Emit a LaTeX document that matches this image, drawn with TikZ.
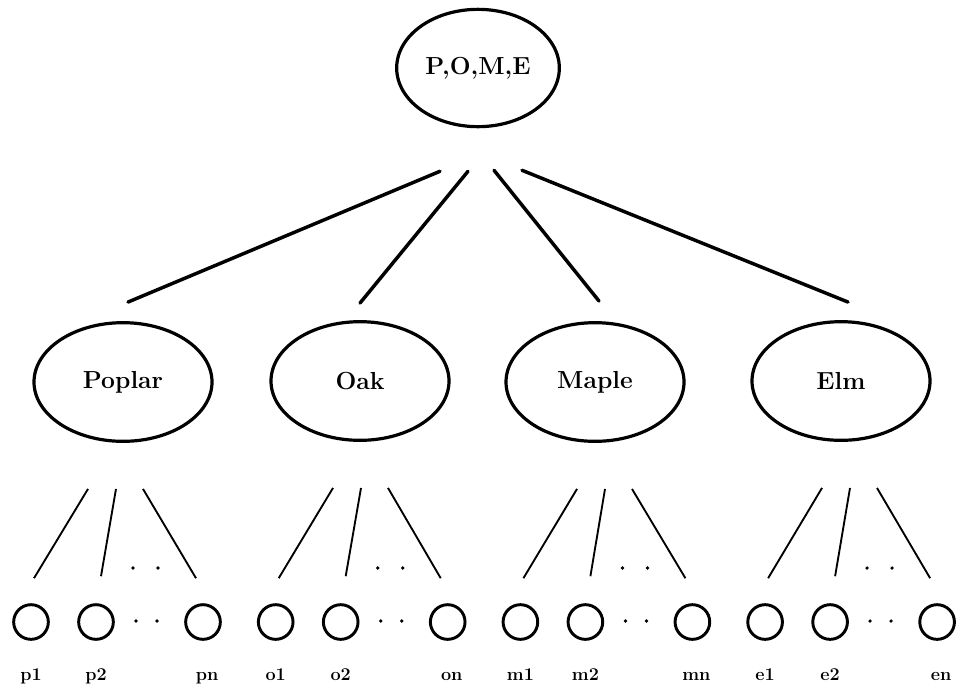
\documentclass[tikz,border=0pt]{standalone}
\usepackage{fontspec}
\usetikzlibrary{shapes.geometric}
\tikzset{
	tree/.style={draw, ellipse, line width=2.4pt, minimum width=133.5pt, minimum height=89pt, inner sep=0pt, font=\fontsize{18.5}{21}\selectfont\bfseries},
	rootbox/.style={tree, minimum width=122pt, minimum height=88pt},
	leaf/.style={draw, circle, line width=2.2pt, minimum size=26pt, inner sep=0pt},
	leaftext/.style={anchor=base, inner sep=0pt, font=\fontsize{13.5}{15}\selectfont\bfseries},
	branch/.style={line width=2.6pt, line cap=round},
	twig/.style={line width=1.4pt},
	elide/.style={fill, circle, minimum size=2.8pt, inner sep=0pt}
}

\begin{document}
\begin{tikzpicture}[x=0.75pt, y=-0.75pt]
	\useasboundingbox (0,0) rectangle (962,690);
	\node[rootbox] (pome) at (478,68) {P,O,M,E};
	\node[tree] (poplar) at (123,382) {Poplar};
	\node[tree] (oak) at (360,381) {Oak};
	\node[tree] (maple) at (595,382) {Maple};
	\node[tree] (elm) at (841,381) {Elm};
	% branches from the root
	\draw[branch] ([shift={(-38,43)}]pome.south) -- ([shift={(5,-19)}]poplar.north);
	\draw[branch] ([shift={(-10,43)}]pome.south) -- ([shift={(0,-17)}]oak.north);
	\draw[branch] ([shift={(16,42)}]pome.south) -- ([shift={(4,-20)}]maple.north);
	\draw[branch] ([shift={(44,42)}]pome.south) -- ([shift={(7,-18)}]elm.north);
	% leaves of each tree
	\foreach \leafid/\treeid/\dx [count=\i from 0] in {p/poplar/-7, o/oak/1, m/maple/10, e/elm/9} {
		\node[leaf] (\leafid1) at ({31+244.7*\i},622) {};
		\node[leaf] (\leafid2) at ({96+244.7*\i},622) {};
		\node[leaf] (\leafid-n) at ({203+244.7*\i},622) {};
		\node[leaftext] (\leafid1-txt) at ([yshift=-44pt]\leafid1.center) {\leafid1};
		\node[leaftext] (\leafid2-txt) at ([yshift=-44pt]\leafid2.center) {\leafid2};
		\node[leaftext] (\leafid-n-txt) at ([shift={(4,0)}, yshift=-44pt]\leafid-n.center) {\leafid n};
		\node[elide] (\leafid-up1) at ({133+244.7*\i},568) {};
		\node[elide] (\leafid-up2) at ({158+244.7*\i},568) {};
		\node[elide] (\leafid-lo1) at ({136+244.7*\i},621) {};
		\node[elide] (\leafid-lo2) at ({157+244.7*\i},621) {};
		\draw[twig] ([shift={(\dx-28,46)}]\treeid.south) -- ([shift={(3,-25)}]\leafid1.north);
		\draw[twig] ([shift={(\dx,46)}]\treeid.south) -- ([shift={(5,-27)}]\leafid2.north);
		\draw[twig] ([shift={(\dx+27,46)}]\treeid.south) -- ([shift={(-7,-25)}]\leafid-n.north);
	}
\end{tikzpicture}
\end{document}
